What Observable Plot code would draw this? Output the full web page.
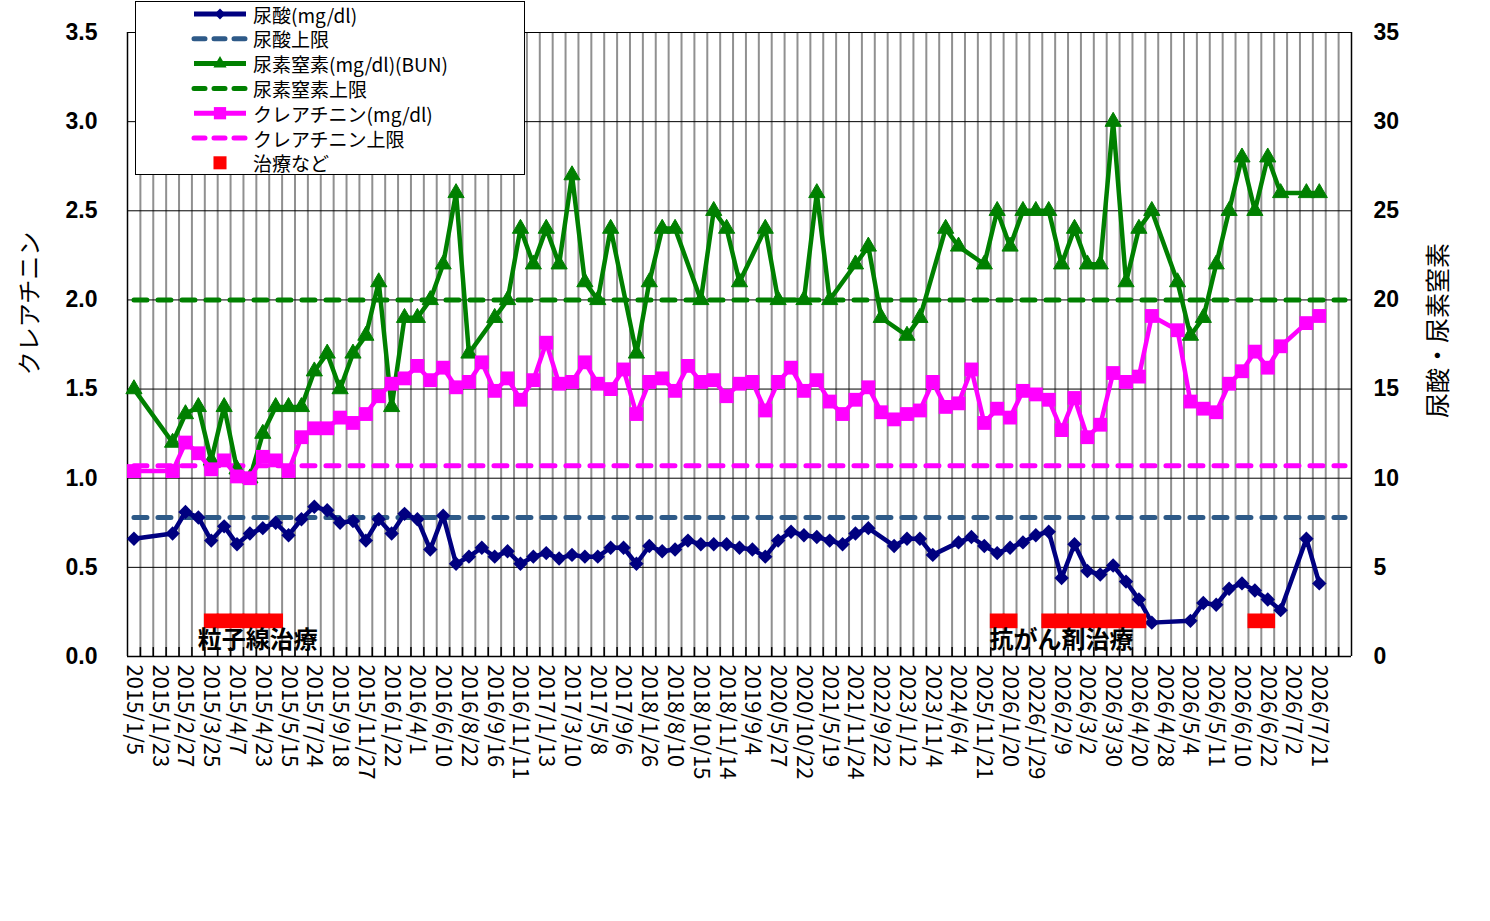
<!DOCTYPE html>
<html><head><meta charset="utf-8">
<script src="https://cdn.jsdelivr.net/npm/d3@7"></script>
<script src="https://cdn.jsdelivr.net/npm/@observablehq/plot@0.6"></script>
<style>
body{margin:0;background:#fff;}
#wrap{position:relative;width:1490px;height:921px;overflow:hidden;}
#legend{position:absolute;left:135px;top:1px;}
</style></head>
<body><div id="wrap"><div id="chart"></div><svg id="legend" width="391" height="175"></svg></div>
<script>
// ---- data ----
const tickLabels = ["2015/1/5","2015/1/23","2015/2/27","2015/3/25","2015/4/7","2015/4/23","2015/5/15","2015/7/24","2015/9/18","2015/11/27",
"2016/1/22","2016/4/1","2016/6/10","2016/8/22","2016/9/16","2016/11/11","2017/1/13","2017/3/10","2017/5/8","2017/9/6",
"2018/1/26","2018/8/10","2018/10/15","2018/11/14","2019/9/4","2020/5/27","2020/10/22","2021/5/19","2021/11/24","2022/9/22",
"2023/1/12","2023/11/4","2024/6/4","2025/11/21","2026/1/20","20226/1/29","2026/2/9","2026/3/2","2026/3/30","2026/4/20",
"2026/4/28","2026/5/4","2026/5/11","2026/6/10","2026/6/22","2026/7/2","2026/7/21"];
const nCategories = 95;

// 尿酸 (mg/dl) – right axis
const uricAcid = [6.6,null,null,6.9,8.1,7.8,6.5,7.3,6.3,6.9,
7.2,7.5,6.8,7.7,8.4,8.2,7.5,7.6,6.5,7.7,
6.9,8.0,7.7,6.0,7.9,5.2,5.6,6.1,5.6,5.9,
5.2,5.6,5.8,5.5,5.7,5.6,5.6,6.1,6.1,5.2,
6.2,5.9,6.0,6.5,6.3,6.3,6.3,6.1,6.0,5.6,
6.5,7.0,6.8,6.7,6.5,6.3,6.9,7.2,null,6.2,
6.6,6.6,5.7,null,6.4,6.7,6.2,5.8,6.1,6.4,
6.8,7.0,4.4,6.3,4.8,4.6,5.1,4.2,3.2,1.9,
null,null,2.0,3.0,2.9,3.8,4.1,3.7,3.2,2.6,
null,6.6,4.1];

// 尿素窒素 (mg/dl)(BUN) – right axis
const bun = [15,null,null,12,13.6,14,11,14,10.5,10,
12.5,14,14,14,16,17,15,17,18,21,
14,19,19,20,22,26,17,null,19,20,
24,22,24,22,27,21,20,24,null,17,
21,24,24,null,20,25,24,21,null,24,
20,null,20,26,20,null,22,23,19,null,
18,19,null,24,23,null,22,25,23,25,
25,25,22,24,22,22,30,21,24,25,
null,21,18,19,22,25,28,25,28,26,
null,26,26];

// クレアチニン (mg/dl) – left axis
const creatinine = [1.04,null,null,1.04,1.20,1.14,1.05,1.10,1.01,1.00,
1.12,1.10,1.04,1.23,1.28,1.28,1.34,1.31,1.36,1.46,
1.53,1.56,1.63,1.55,1.62,1.51,1.54,1.65,1.49,1.56,
1.44,1.55,1.76,1.53,1.54,1.65,1.53,1.50,1.61,1.36,
1.54,1.56,1.49,1.63,1.54,1.55,1.46,1.53,1.54,1.38,
1.54,1.62,1.49,1.55,1.43,1.36,1.44,1.51,1.37,1.33,
1.36,1.38,1.54,1.40,1.42,1.61,1.31,1.39,1.34,1.49,
1.47,1.44,1.27,1.45,1.23,1.30,1.59,1.54,1.57,1.91,
null,1.83,1.43,1.39,1.37,1.53,1.60,1.71,1.62,1.74,
null,1.87,1.91];

// 治療など (right axis level 2)
const treatmentIdx = [6,7,8,9,10,11,67,68,71,72,73,74,75,76,77,78,87,88];
const treatmentLevel = 2;

const uricLimit = 7.8;   // right axis
const bunLimit = 20;     // right axis
const creLimit = 1.07;   // left axis

const annotations = [
  {label:"粒子線治療", i:9.6, v:0.09},
  {label:"抗がん剤治療", i:72.0, v:0.09}
];

const yTicks = [0,0.5,1.0,1.5,2.0,2.5,3.0,3.5];
const rightFactor = 10;

// ---- build ----
const pts = (arr, f) => arr.map((v,i)=>({i, v: v==null?null:v/f})).filter(d=>d.v!=null);
const uricPts = pts(uricAcid, rightFactor);
const bunPts = pts(bun, rightFactor);
const crePts = pts(creatinine, 1);
const treatPts = treatmentIdx.map(i=>({i, v: treatmentLevel/rightFactor}));
const allIdx = d3.range(nCategories);
const limitLine = v => allIdx.map(i=>({i, v}));
const bounds = d3.range(nCategories+1).map(k=>k-0.5);
const innerBounds = bounds.slice(1,-1);
const edgeBounds = [bounds[0], bounds[bounds.length-1]];
const evenIdx = tickLabels.map((_,k)=>k*2);

const NAVY="#000080", GREEN="#008000", MAG="#FF00FF", LIMBLUE="#2E5A88", RED="#FF0000";
const FONT = "'Noto Sans CJK JP', sans-serif";
const NUMFONT = "'Liberation Sans', Arial, sans-serif";

const chart = Plot.plot({
  width: 1490, height: 921,
  marginLeft: 127, marginRight: 139, marginTop: 32, marginBottom: 265,
  x: {type: "linear", domain: [-0.5, nCategories-0.5]},
  y: {domain: [0, 3.5]},
  style: {fontFamily: FONT, background: "white", color: "#000", overflow: "visible"},
  marks: [
    Plot.ruleX(innerBounds, {y1: 0, y2: 3.5, stroke: "#909090", strokeWidth: 2}),
    Plot.ruleY(yTicks, {stroke: "#000", strokeWidth: 1}),
    Plot.ruleX(innerBounds, {y1: 0, y2: 0.05, stroke: "#000", strokeWidth: 1.5}),
    Plot.ruleX(edgeBounds, {y1: 0, y2: 3.5, stroke: "#000", strokeWidth: 1.5}),
    Plot.ruleY([0], {stroke: "#000", strokeWidth: 1.5}),
    Plot.line(limitLine(uricLimit/rightFactor), {x:"i", y:"v", stroke: LIMBLUE, strokeWidth: 5, strokeDasharray: "13,11", strokeLinecap: "round"}),
    Plot.line(limitLine(bunLimit/rightFactor), {x:"i", y:"v", stroke: GREEN, strokeWidth: 5, strokeDasharray: "13,11", strokeLinecap: "round"}),
    Plot.line(limitLine(creLimit), {x:"i", y:"v", stroke: MAG, strokeWidth: 5, strokeDasharray: "13,11", strokeLinecap: "round"}),
    Plot.line(bunPts, {x:"i", y:"v", stroke: GREEN, strokeWidth: 4.5, strokeLinejoin: "round"}),
    Plot.dot(bunPts, {x:"i", y:"v", symbol: "triangle", r: 6, fill: GREEN, stroke: GREEN, strokeWidth: 1}),
    Plot.line(crePts, {x:"i", y:"v", stroke: MAG, strokeWidth: 4.5, strokeLinejoin: "round"}),
    Plot.dot(crePts, {x:"i", y:"v", symbol: "square", r: 7.8, fill: MAG}),
    Plot.line(uricPts, {x:"i", y:"v", stroke: NAVY, strokeWidth: 4.5, strokeLinejoin: "round"}),
    Plot.dot(uricPts, {x:"i", y:"v", symbol: "diamond2", r: 6.5, fill: NAVY}),
    Plot.dot(treatPts, {x:"i", y:"v", symbol: "square", r: 8.3, fill: RED}),
    Plot.text(annotations, {x:"i", y:"v", text:"label", fontSize: 24, fontWeight: "bold", fill: "#000", fontFamily: FONT}),
    Plot.axisX({ticks: evenIdx, tickFormat: d => tickLabels[d/2], tickRotate: 90, tickSize: 0, tickPadding: 8, fontSize: 22, fontFamily: FONT, label: null}),
    Plot.axisY({ticks: yTicks, tickFormat: d3.format(".1f"), tickSize: 0, tickPadding: 30, fontSize: 23, fontWeight: "bold", fontFamily: NUMFONT, label: null}),
    Plot.axisY({anchor: "right", ticks: yTicks, tickFormat: d => String(Math.round(d*rightFactor)), tickSize: 0, tickPadding: 22, fontSize: 23, fontWeight: "bold", fontFamily: NUMFONT, label: null}),
    Plot.text(["クレアチニン"], {frameAnchor: "left", dx: -97, dy: -41, rotate: -90, textAnchor: "middle", lineAnchor: "middle", fontSize: 24, fontFamily: FONT}),
    Plot.text(["尿酸・尿素窒素"], {frameAnchor: "right", dx: 87, dy: -14, rotate: -90, textAnchor: "middle", lineAnchor: "middle", fontSize: 25, fontFamily: FONT})
  ]
});
document.getElementById("chart").appendChild(chart);

// ---- legend ----
const legendItems = [
  {label:"尿酸(mg/dl)", color:NAVY, symbol:"diamond"},
  {label:"尿酸上限", color:LIMBLUE, dash:true},
  {label:"尿素窒素(mg/dl)(BUN)", color:GREEN, symbol:"triangle"},
  {label:"尿素窒素上限", color:GREEN, dash:true},
  {label:"クレアチニン(mg/dl)", color:MAG, symbol:"square"},
  {label:"クレアチニン上限", color:MAG, dash:true},
  {label:"治療など", color:RED, symbol:"square", noLine:true}
];
const lg = d3.select("#legend");
lg.append("rect").attr("x",0.5).attr("y",0.5).attr("width",389).attr("height",173).attr("fill","#fff").attr("stroke","#000").attr("stroke-width",1);
legendItems.forEach((it,k)=>{
  const cy = 13 + k*24.8;
  const g = lg.append("g");
  if(!it.noLine){
    const ln = g.append("line").attr("x1",59).attr("x2",111).attr("y1",cy).attr("y2",cy)
      .attr("stroke",it.color).attr("stroke-width",5);
    if(it.dash) ln.attr("stroke-dasharray","11,9").attr("stroke-linecap","round");
  }
  if(it.symbol){
    const size = it.noLine ? 170 : (it.symbol==="square" ? 150 : 75);
    const sym = it.symbol==="diamond" ? d3.symbolDiamond2 : it.symbol==="triangle" ? d3.symbolTriangle : d3.symbolSquare;
    g.append("path").attr("d", d3.symbol(sym, size)()).attr("transform",`translate(85,${cy})`).attr("fill",it.color);
  }
  g.append("text").attr("x",118).attr("y",cy).attr("dominant-baseline","central")
    .attr("font-family",FONT).attr("font-size",19).attr("fill","#000").text(it.label);
});
</script></body></html>
